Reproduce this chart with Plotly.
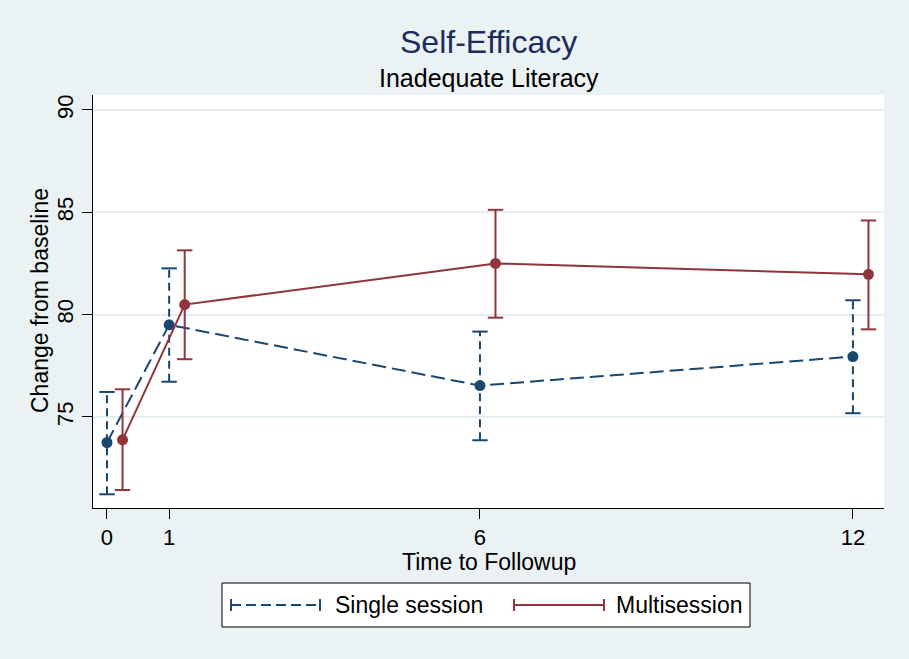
import plotly.graph_objects as go

# ---- data ----
times = [0, 1, 6, 12]
single_mean = [73.75, 79.50, 76.53, 77.95]
single_lo = [71.22, 76.72, 73.86, 75.18]
single_hi = [76.22, 82.26, 79.17, 80.70]
multi_mean = [73.88, 80.49, 82.50, 81.97]
multi_lo = [71.43, 77.82, 79.85, 79.28]
multi_hi = [76.35, 83.14, 85.12, 84.60]
multi_offset = 0.25
xtick_vals = [0, 1, 6, 12]
ytick_vals = [75, 80, 85, 90]
series_names = ["Single session", "Multisession"]

BLUE = "#1a476f"
RED = "#90353b"
BG = "#eaf2f3"
FONT = "Liberation Sans, Arial, Helvetica, sans-serif"

fig = go.Figure()


def add_series(xs, mean, lo, hi, color, dash_line, dash_err, name):
    ex, ey = [], []
    for x, a, b in zip(xs, lo, hi):
        ex += [x, x, None]
        ey += [a, b, None]
    fig.add_trace(go.Scatter(x=ex, y=ey, mode="lines", showlegend=False,
                             line=dict(color=color, width=2, dash=dash_err),
                             hoverinfo="skip"))
    cx = list(xs) + list(xs)
    cy = list(lo) + list(hi)
    fig.add_trace(go.Scatter(x=cx, y=cy, mode="markers", showlegend=False,
                             marker=dict(symbol="line-ew-open", size=11, color=color,
                                         line=dict(color=color, width=2)),
                             hoverinfo="skip"))
    fig.add_trace(go.Scatter(x=list(xs), y=mean, mode="lines+markers", name=name,
                             showlegend=False,
                             line=dict(color=color, width=2, dash=dash_line),
                             marker=dict(color=color, size=11)))


add_series(times, single_mean, single_lo, single_hi, BLUE, "14px,6px", "8px,5px", series_names[0])
add_series([t + multi_offset for t in times], multi_mean, multi_lo, multi_hi, RED, "solid", "solid", series_names[1])

# ---- manual legend (Stata-style) ----
PW, PH, L, B = 791.0, 413.0, 93.0, 508.0


def px(x):
    return (x - L) / PW


def py(y):
    return (B - y) / PH


shapes = []
shapes.append(dict(type="rect", xref="paper", yref="paper",
                   x0=px(222), x1=px(750), y0=py(627), y1=py(583),
                   line=dict(color="black", width=1), fillcolor="white", layer="above"))
legend_items = [(231, 320, 333, BLUE, "10px,5px", series_names[0]),
                (514, 604, 614, RED, "solid", series_names[1])]
annotations = []
for x0, x1, tx, col, dsh, lab in legend_items:
    shapes.append(dict(type="line", xref="paper", yref="paper",
                       x0=px(x0), x1=px(x1), y0=py(605), y1=py(605),
                       line=dict(color=col, width=2, dash=dsh)))
    for xc in (x0, x1):
        shapes.append(dict(type="line", xref="paper", yref="paper",
                           x0=px(xc), x1=px(xc), y0=py(599), y1=py(611),
                           line=dict(color=col, width=2)))
    annotations.append(dict(text=lab, xref="paper", yref="paper", x=px(tx), y=py(605),
                            xanchor="left", yanchor="middle", showarrow=False,
                            font=dict(family=FONT, size=23, color="black")))

annotations.append(dict(text="Self-Efficacy", xref="paper", yref="paper", x=0.5, y=py(42),
                        xanchor="center", yanchor="middle", showarrow=False,
                        font=dict(family=FONT, size=32, color="#1e2c5c")))
annotations.append(dict(text="Inadequate Literacy", xref="paper", yref="paper", x=0.5, y=py(78),
                        xanchor="center", yanchor="middle", showarrow=False,
                        font=dict(family=FONT, size=25, color="black")))
annotations.append(dict(text="Time to Followup", xref="paper", yref="paper", x=0.5, y=py(562),
                        xanchor="center", yanchor="middle", showarrow=False,
                        font=dict(family=FONT, size=23, color="black")))
annotations.append(dict(text="Change from baseline", xref="paper", yref="paper", x=px(40), y=py(301),
                        xanchor="center", yanchor="middle", showarrow=False, textangle=-90,
                        font=dict(family=FONT, size=23, color="black")))

fig.update_layout(
    width=909, height=659,
    margin=dict(l=93, r=25, t=95, b=151),
    paper_bgcolor=BG, plot_bgcolor="white",
    font=dict(family=FONT, size=22, color="black"),
    showlegend=False,
    shapes=shapes, annotations=annotations,
    xaxis=dict(range=[-0.225, 12.5], tickvals=xtick_vals, ticktext=[str(v) for v in xtick_vals],
               showgrid=False, zeroline=False, showline=True, linecolor="black", linewidth=1,
               ticks="outside", ticklen=10, tickcolor="black", tickwidth=1,
               tickfont=dict(size=22)),
    yaxis=dict(range=[70.55, 90.73], tickvals=ytick_vals, ticktext=[str(v) for v in ytick_vals],
               showgrid=True, gridcolor="#e4eef0", gridwidth=2, zeroline=False,
               showline=True, linecolor="black", linewidth=1,
               ticks="outside", ticklen=10, tickcolor="black", tickwidth=1,
               tickangle=-90, tickfont=dict(size=22)),
)

fig.write_html("out.html", config={"displayModeBar": False},
               post_script="document.body.style.margin='0';")
